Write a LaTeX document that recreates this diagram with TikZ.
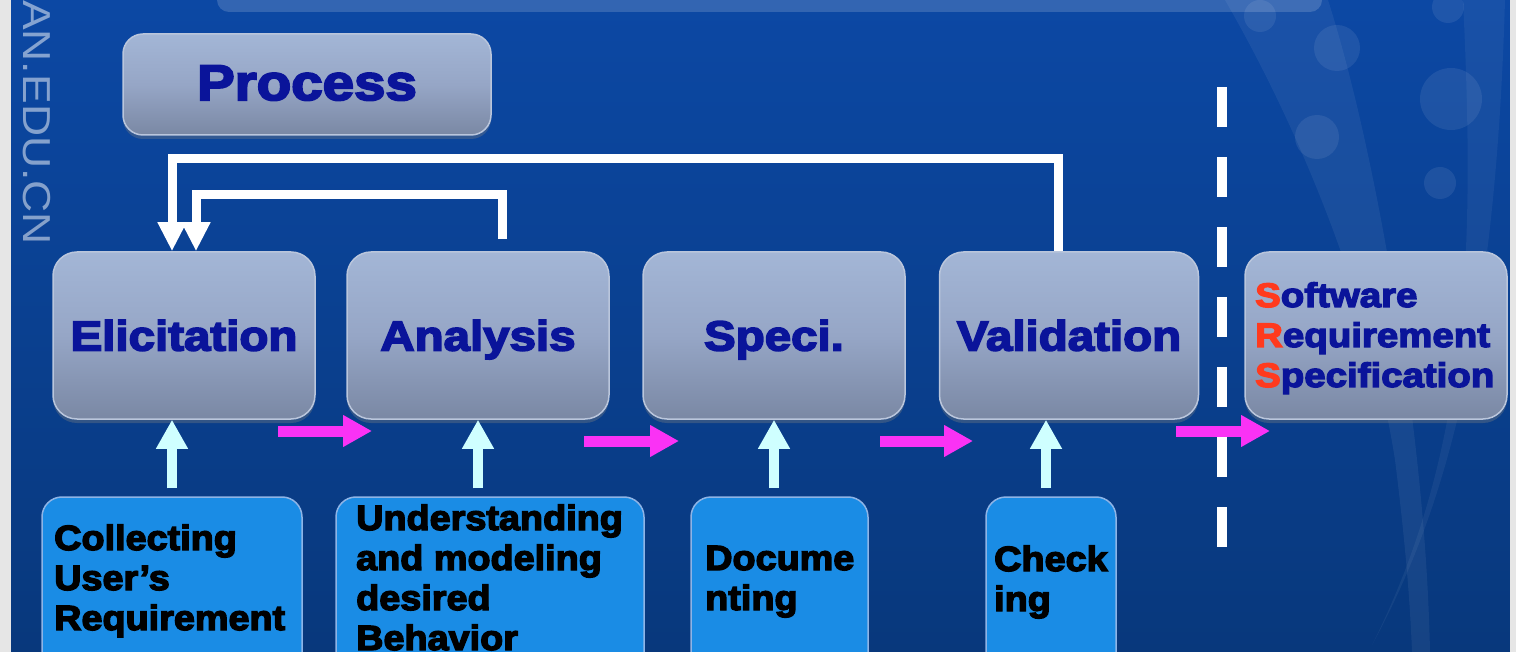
\documentclass[tikz,border=0pt]{standalone}
\usepackage{fontspec}
\setmainfont{Liberation Sans}
\newfontfamily\titlefont{Liberation Sans}[BoldFeatures={FakeBold=4,FakeStretch=1.13}]
\newfontfamily\bodyfont{Liberation Sans}[BoldFeatures={FakeBold=4,FakeStretch=1.08}]
\newfontfamily\markfont{Liberation Sans}[FakeStretch=1.14]
\usetikzlibrary{arrows.meta,shadows}

\definecolor{bgtop}{RGB}{12,72,164}
\definecolor{bgbot}{RGB}{8,56,124}
\definecolor{stagetop}{RGB}{163,182,214}
\definecolor{stagemid}{RGB}{150,166,198}
\definecolor{stagebot}{RGB}{122,136,164}
\definecolor{stageline}{RGB}{186,198,220}
\definecolor{navy}{RGB}{10,20,154}
\definecolor{taskblue}{RGB}{26,140,229}
\definecolor{taskline}{RGB}{142,180,230}
\definecolor{flowpink}{RGB}{250,50,245}
\definecolor{feedcyan}{RGB}{207,255,255}
\definecolor{srsred}{RGB}{255,58,30}
\definecolor{sidegrey}{RGB}{230,230,230}

\begin{document}
\begin{tikzpicture}[x=1pt,y=-1pt,
  stage/.style={draw=stageline,line width=1.5pt,rounded corners=24pt,
    top color=stagetop,bottom color=stagebot,middle color=stagemid,
    minimum height=167pt,inner sep=0pt,
    drop shadow={shadow xshift=0pt,shadow yshift=-4pt,opacity=0.35},
    font=\titlefont\bfseries\fontsize{42}{42}\selectfont,text=navy,
    text height=30pt,text depth=0pt},
  task/.style={draw=taskline,line width=1.5pt,fill=taskblue,rounded corners=20pt,
    minimum height=200pt,inner sep=0pt},
  taskline/.style={anchor=base west,inner sep=0pt,
    font=\bodyfont\bfseries\fontsize{35}{35}\selectfont,text=black},
  srsline/.style={anchor=base west,inner sep=0pt,
    font=\titlefont\bfseries\fontsize{34}{34}\selectfont,text=navy},
  fb/.style={draw=white,line width=9pt,-{Triangle[width=27pt,length=29pt]}},
  flow/.style={draw=flowpink,line width=11pt,-{Triangle[width=30pt,length=29pt]}},
  feed/.style={draw=feedcyan,line width=10pt,-{Triangle[width=30pt,length=29pt]}}]

\useasboundingbox (0,0) rectangle (1516,652);
\clip (0,0) rectangle (1516,652);

% backdrop
\fill[top color=bgtop,bottom color=bgbot] (11,0) rectangle (1510,652);
\fill[sidegrey] (0,0) rectangle (11,652);
\fill[sidegrey] (1510,0) rectangle (1516,652);
\fill[white,opacity=0.06] (1225,0) .. controls (1300,130) and (1370,300) .. (1395,460)
  .. controls (1405,540) and (1410,600) .. (1412,652) -- (1430,652)
  .. controls (1428,560) and (1420,480) .. (1410,400)
  .. controls (1390,250) and (1360,100) .. (1328,0) -- cycle;
\fill[white,opacity=0.05] (1463,0) .. controls (1475,250) and (1470,450) .. (1372,645)
  .. controls (1440,520) and (1495,350) .. (1505,0) -- cycle;
\foreach \cx/\cy/\r in {1260/16/16,1337/48/23,1451/99/31,1317/137/22,1440/183/16,1448/7/16}
  \fill[white,opacity=0.08] (\cx,\cy) circle[radius=\r];
\fill[white,opacity=0.16,rounded corners=12pt] (217,-30) rectangle (1322,12);
\node[rotate=-90,anchor=east,inner sep=0pt,text=white,opacity=0.5,
  font=\markfont\fontsize{39}{39}\selectfont] (mark) at (37,245) {AN.EDU.CN};

% title
\node[stage,minimum width=368pt,minimum height=101pt,rounded corners=20pt,
  font=\titlefont\bfseries\fontsize{50}{50}\selectfont,
  text height=37pt,text depth=6pt] (proc) at (307,84.5) {Process};

% stages
\node[stage,minimum width=262pt] (eli) at (184,335.5) {Elicitation};
\node[stage,minimum width=262pt] (ana) at (478,335.5) {Analysis};
\node[stage,minimum width=262pt] (spe) at (774,335.5) {Speci.};
\node[stage,minimum width=259pt] (val) at (1069,335.5) {Validation};
\node[stage,minimum width=262pt] (srs) at (1376,335.5) {};
\node[srsline] (srs1) at (1255,307) {\textcolor{srsred}{S}oftware};
\node[srsline] (srs2) at (1255,347) {\textcolor{srsred}{R}equirement};
\node[srsline] (srs3) at (1255,387) {\textcolor{srsred}{S}pecification};

% activities
\node[task,minimum width=260pt] (b1) at (172,597) {};
\node[task,minimum width=308pt] (b2) at (490,597) {};
\node[task,minimum width=177pt] (b3) at (779.5,597) {};
\node[task,minimum width=130pt] (b4) at (1051,597) {};
\node[taskline] (t11) at (54,550) {Collecting};
\node[taskline] (t12) at (54,590) {User’s};
\node[taskline] (t13) at (54,630) {Requirement};
\node[taskline] (t21) at (356,530) {Understanding};
\node[taskline] (t22) at (356,570) {and modeling};
\node[taskline] (t23) at (356,610) {desired};
\node[taskline] (t24) at (356,650) {Behavior};
\node[taskline] (t31) at (705,570) {Docume};
\node[taskline] (t32) at (705,610) {nting};
\node[taskline] (t41) at (994,571) {Check};
\node[taskline] (t42) at (994,611) {ing};

% feedback loops
\draw[fb] ([xshift=-11pt]val.north) -- ++(0,-93) -| ([xshift=-12pt]eli.north);
\draw[fb] ([xshift=24pt,yshift=12pt]ana.north) -- ++(0,-45) -| ([xshift=12pt]eli.north);

% inputs from activities
\coordinate (c4) at ([xshift=-5pt]b4.north);
\draw[feed] (b1.north) ++(0,-8) -- (b1.north |- eli.south);
\draw[feed] (ana.south |- b2.north) ++(0,-8) -- (ana.south);
\draw[feed] (spe.south |- b3.north) ++(0,-8) -- (spe.south);
\draw[feed] (c4) ++(0,-8) -- (c4 |- val.south);

% flow between stages
\coordinate (f1a) at (278,431); \coordinate (f1b) at (372,431);
\coordinate (f2a) at (584,441); \coordinate (f2b) at (679,441);
\coordinate (f3a) at (880,441); \coordinate (f3b) at (973,441);
\coordinate (f4a) at (1176,431); \coordinate (f4b) at (1270,431);
\draw[flow] (f1a) -- (f1b);
\draw[flow] (f2a) -- (f2b);
\draw[flow] (f3a) -- (f3b);

% deliverable boundary
\coordinate (d1) at (1222,87); \coordinate (d2) at (1222,547);
\draw[white,line width=10pt,dash pattern=on 40pt off 30pt] (d1) -- (d2);
\draw[flow] (f4a) -- (f4b);
\end{tikzpicture}
\end{document}
